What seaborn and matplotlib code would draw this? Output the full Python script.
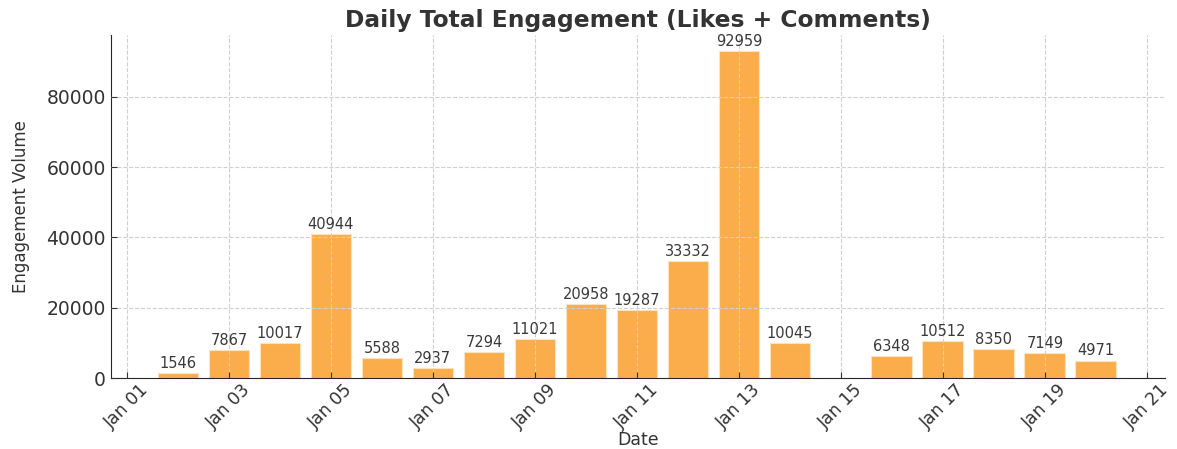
import pandas as pd
import seaborn as sns
import matplotlib.pyplot as plt
import matplotlib.dates as mdates

# Data (Jan 15 has no bar)
dates = ["2024-01-02", "2024-01-03", "2024-01-04", "2024-01-05", "2024-01-06",
         "2024-01-07", "2024-01-08", "2024-01-09", "2024-01-10", "2024-01-11",
         "2024-01-12", "2024-01-13", "2024-01-14", "2024-01-16", "2024-01-17",
         "2024-01-18", "2024-01-19", "2024-01-20"]
engagement = [1546, 7867, 10017, 40944, 5588, 2937, 7294, 11021, 20958, 19287,
              33332, 92959, 10045, 6348, 10512, 8350, 7149, 4971]

df = pd.DataFrame({"date": pd.to_datetime(dates), "engagement": engagement})
df["x"] = mdates.date2num(df["date"])

sns.set_style("ticks")
plt.rcParams['font.family'] = ['DejaVu Sans']

fig, ax = plt.subplots(figsize=(11.77, 4.49), dpi=100)
fig.subplots_adjust(left=0.094, right=0.99, top=0.922, bottom=0.158)

sns.barplot(data=df, x="x", y="engagement", native_scale=True, width=0.8,
            color="#FAAD4A", saturation=1, edgecolor="#FCE3C0", linewidth=0.8, ax=ax)

# value labels
for xv, yv in zip(df["x"], df["engagement"]):
    ax.text(xv, yv + 600, f"{yv}", ha="center", va="bottom", fontsize=10.5, color="#3a3a3a")

ax.xaxis.set_major_locator(mdates.DayLocator(bymonthday=range(1, 32, 2)))
ax.xaxis.set_major_formatter(mdates.DateFormatter("%b %d"))
ax.set_xlim(mdates.date2num(pd.Timestamp("2024-01-01")) - 0.32,
            mdates.date2num(pd.Timestamp("2024-01-21")) + 0.36)
ax.set_ylim(0, 97600)

ax.grid(True, linestyle="--", color="#d0d0d0", linewidth=0.8)
ax.set_axisbelow(False)
sns.despine(ax=ax)
ax.tick_params(direction="in", colors="#333333", labelsize=12.5, length=4)
ax.tick_params(axis="y", labelsize=13.5)
ax.tick_params(axis="x", labelrotation=45, pad=2)
for lbl in ax.get_xticklabels():
    lbl.set_ha("center")

ax.set_title("Daily Total Engagement (Likes + Comments)", fontsize=16.8,
             fontweight="bold", color="#333333")
ax.set_xlabel("Date", fontsize=12.5, color="#333333", labelpad=-1)
ax.set_ylabel("Engagement Volume", fontsize=12, color="#333333", labelpad=12)

plt.savefig("out.png", dpi=100)
